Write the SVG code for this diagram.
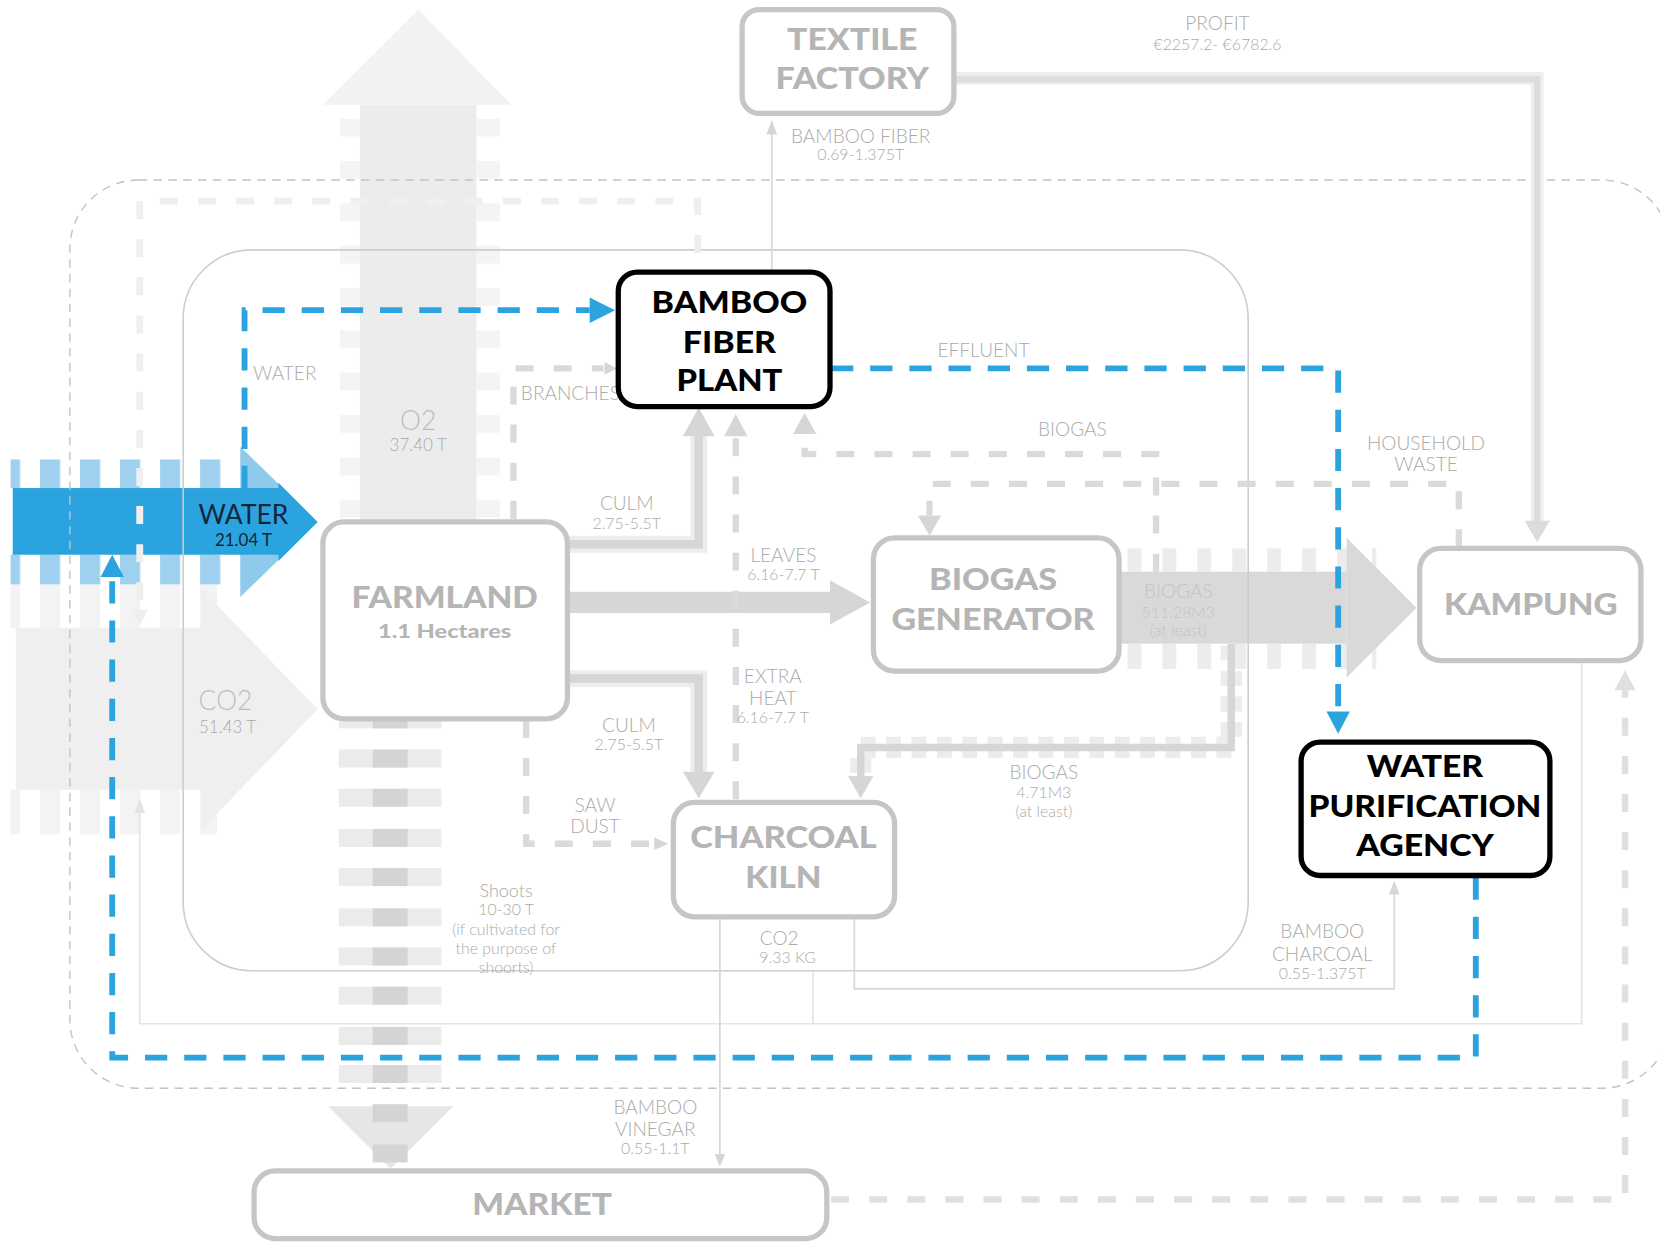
<svg xmlns="http://www.w3.org/2000/svg" width="1660" height="1242" viewBox="0 0 1660 1242">
<style>
text{font-family:Lato,"Open Sans","Liberation Sans",sans-serif}
.t{font-size:29px;font-weight:900;text-anchor:middle;fill:#b5b5b5}
.tb{font-size:29px;font-weight:900;text-anchor:middle;fill:#000}
.box{fill:#fff;stroke:#c6c6c6;stroke-width:5}
.boxb{fill:#fff;stroke:#000;stroke-width:5}
.lb{font-size:18px;font-weight:300;text-anchor:middle;fill:#aaaaaa}
.sm{font-size:15px;font-weight:300;text-anchor:middle;fill:#aaaaaa}
.big{font-size:25px;font-weight:300;text-anchor:middle;fill:#bdbdbd}
.st{text-anchor:start}
.on{fill:#c4c4c4}
.dg{fill:none;stroke:#dadada;stroke-width:6;stroke-dasharray:17 19}
.dl{fill:none;stroke:#efefef;stroke-width:6.5;stroke-dasharray:17 19}
.bl{fill:none;stroke:#2ba3df;stroke-width:5.5;stroke-dasharray:21 16}
.thin{fill:none;stroke:#d8d8d8;stroke-width:1.6}
.thl{fill:none;stroke:#e4e4e4;stroke-width:1.6}
.halo{fill:none;stroke:#ededed;stroke-width:16}
.core{fill:none;stroke:#d6d6d6;stroke-width:8}
.ag{fill:#d6d6d6}
.ab{fill:#2ba3df}
</style>
<defs>
<pattern id="pO2" patternUnits="userSpaceOnUse" x="0" y="112" width="10" height="40"><rect width="10" height="17" fill="#f4f4f4"/></pattern>
<pattern id="pW" patternUnits="userSpaceOnUse" x="0" y="0" width="37.8" height="10"><rect width="19" height="10" fill="#9fd1ef"/></pattern>
<pattern id="pC" patternUnits="userSpaceOnUse" x="0" y="0" width="37.8" height="10"><rect width="19" height="10" fill="#f3f3f3"/></pattern>
<pattern id="pB" patternUnits="userSpaceOnUse" x="1065" y="0" width="33" height="10"><rect width="13" height="10" fill="#ececec"/></pattern>
</defs>
<rect width="1660" height="1242" fill="#fff"/>
<g transform="scale(1.05867)">
<g id="flows">
<rect x="321" y="112" width="19" height="378" fill="url(#pO2)"/>
<rect x="450" y="112" width="22" height="378" fill="url(#pO2)"/>
<polygon points="305,99 395,9 483,99" fill="#f2f2f2"/>
<rect x="340" y="99" width="110" height="393" fill="#ececec"/>
<g fill="#ebebeb">
<rect x="320" y="671" width="97" height="17"/><rect x="320" y="708" width="97" height="17"/><rect x="320" y="745" width="97" height="17"/><rect x="320" y="783" width="97" height="17"/><rect x="320" y="820" width="97" height="17"/><rect x="320" y="858" width="97" height="17"/><rect x="320" y="895" width="97" height="17"/><rect x="320" y="932" width="97" height="17"/><rect x="320" y="970" width="97" height="17"/><rect x="320" y="1006" width="97" height="17"/>
</g>
<polygon points="310,1045 428,1045 369,1104" fill="#e6e6e6"/>
<g fill="#d4d4d4">
<rect x="352" y="671" width="33" height="17"/><rect x="352" y="708" width="33" height="17"/><rect x="352" y="745" width="33" height="17"/><rect x="352" y="783" width="33" height="17"/><rect x="352" y="820" width="33" height="17"/><rect x="352" y="858" width="33" height="17"/><rect x="352" y="895" width="33" height="17"/><rect x="352" y="932" width="33" height="17"/><rect x="352" y="970" width="33" height="17"/><rect x="352" y="1006" width="33" height="17"/><rect x="352" y="1043" width="33" height="17"/><rect x="352" y="1081" width="33" height="17"/>
</g>
<rect x="10" y="552" width="195" height="41" fill="url(#pC)"/>
<rect x="10" y="746" width="195" height="42" fill="url(#pC)"/>
<rect x="15" y="593" width="190" height="153" fill="#efefef"/>
<polygon points="190,556 300,670 190,784" fill="#efefef"/>
<rect x="10" y="434" width="217" height="27" fill="url(#pW)"/>
<rect x="10" y="524" width="217" height="28" fill="url(#pW)"/>
<polygon points="227,422 300,493 227,564" fill="#8fcaed"/>
<rect x="12" y="461" width="252" height="63" fill="#2ba3df"/>
<polygon points="263,456 300,493 263,530" fill="#2ba3df"/>
<rect x="1062" y="518" width="238" height="22" fill="url(#pB)"/>
<rect x="1062" y="608" width="238" height="24" fill="url(#pB)"/>
<rect x="1058" y="540" width="214" height="68" fill="#d9d9d9"/>
<polygon points="1272,508 1338,574 1272,640" fill="#d9d9d9"/>
</g>
<g id="boundaries">
<rect x="66" y="170" width="1512" height="858" rx="65" fill="none" stroke="#c2c2c2" stroke-width="1.3" stroke-dasharray="8 6"/>
<rect x="173" y="236" width="1006" height="681" rx="65" fill="none" stroke="#cdcdcd" stroke-width="1.5"/>
</g>
<g id="connectors">
<path class="dl" d="M659,239 V190 H132 V578"/>
<polygon points="124,576 132,590 140,576" fill="#eeeeee"/>
<path class="thl" d="M1494,625 V967 H132 V760"/>
<polygon points="127,768 132,754 137,768" fill="#e4e4e4"/>
<path class="thl" d="M768,917 V967"/>
<path class="halo" d="M537,514 H660 V412"/>
<path class="core" d="M537,514 H660 V412"/>
<polygon class="ag" points="645,412 660,385 675,412"/>
<rect x="537" y="559" width="247" height="20" fill="#d6d6d6"/>
<polygon class="ag" points="784,548 822,569 784,590"/>
<path class="halo" d="M537,641 H660 V729"/>
<path class="core" d="M537,641 H660 V729"/>
<polygon class="ag" points="645,729 660,754 675,729"/>
<path class="dg" d="M695,755 V412"/>
<polygon class="ag" points="684,412 695,391 706,412"/>
<path class="dg" d="M485,490 V348 H570"/>
<polygon class="ag" points="571,342 583,348 571,354"/>
<path class="dg" d="M497,680 V797 H618"/>
<polygon class="ag" points="618,791 631,797 618,803"/>
<path class="dg" d="M1092,540 V429 H760 V410"/>
<polygon class="ag" points="749,410 760,390 771,410"/>
<path class="dg" d="M1378,517 V457 H878 V487"/>
<polygon class="ag" points="867,487 878,506 889,487"/>
<path fill="none" stroke="#ececec" stroke-width="20" stroke-dasharray="14 10" d="M1163,610 V706 H813 V735"/>
<path fill="none" stroke="#d6d6d6" stroke-width="7" d="M1163,608 V706 H813 V735"/>
<polygon class="ag" points="801,733 813,754 825,733"/>
<path class="thin" d="M729,256 V118"/>
<polygon class="ag" points="724,127 729,113 734,127"/>
<path fill="none" stroke="#eeeeee" stroke-width="12" d="M902,74 H1452 V495"/>
<path fill="none" stroke="#dcdcdc" stroke-width="6" d="M902,75 H1452 V495"/>
<polygon points="1440,492 1452,512 1464,492" fill="#dcdcdc"/>
<path class="thin" d="M680,866 V1092"/>
<polygon class="ag" points="675,1090 680,1102 685,1090"/>
<path class="thin" d="M807,866 V934 H1317 V842"/>
<polygon class="ag" points="1312,845 1317,832 1322,845"/>
<path class="dg" style="stroke:#e0e0e0" d="M785,1133 H1535 V652"/>
<polygon points="1525,652 1535,633 1545,652" fill="#e0e0e0"/>
<path class="bl" d="M231,461 V293 H557"/>
<polygon class="ab" points="557,281 581,293 557,305"/>
<path class="bl" d="M785,348 H1264 V672"/>
<polygon class="ab" points="1253,672 1264,693 1275,672"/>
<path class="bl" d="M1394,829 V999 H106 V545"/>
<polygon class="ab" points="95,545 106,524 117,545"/>
</g>
<g id="labels">
<text class="big" x="395" y="406">O2</text><text class="sm" x="395" y="426" style="font-size:16px">37.40 T</text>
<text class="big" x="213" y="671">CO2</text><text class="sm" x="215" y="692" style="font-size:16px">51.43 T</text>
<text x="230" y="495" style="font-size:25px;text-anchor:middle;fill:#13263a">WATER</text>
<text x="230" y="516" style="font-size:16px;text-anchor:middle;fill:#13263a">21.04 T</text>
<text class="lb st" x="239" y="359">WATER</text>
<text class="lb st" x="492" y="378">BRANCHES</text>
<text class="lb" x="592" y="482">CULM</text><text class="sm" x="592" y="500">2.75-5.5T</text>
<text class="lb" x="740" y="531">LEAVES</text><text class="sm" x="740" y="548">6.16-7.7 T</text>
<text class="lb" x="730" y="645">EXTRA</text><text class="lb" x="730" y="666">HEAT</text><text class="sm" x="730" y="683">6.16-7.7 T</text>
<text class="lb" x="594" y="691">CULM</text><text class="sm" x="594" y="708">2.75-5.5T</text>
<text class="lb" x="562" y="767">SAW</text><text class="lb" x="562" y="787">DUST</text>
<text class="lb" x="478" y="847" style="font-size:17px">Shoots</text>
<text class="sm" x="478" y="864">10-30 T</text>
<text class="sm" x="478" y="883">(if cultivated for</text>
<text class="sm" x="478" y="901">the purpose of</text>
<text class="sm" x="478" y="919">shoorts)</text>
<text class="lb" x="736" y="893">CO2</text><text class="sm" x="744" y="910">9.33 KG</text>
<text class="lb" x="619" y="1052">BAMBOO</text><text class="lb" x="619" y="1073">VINEGAR</text><text class="sm" x="619" y="1090">0.55-1.1T</text>
<text class="lb" x="813" y="135">BAMBOO FIBER</text><text class="sm" x="813" y="151">0.69-1.375T</text>
<text class="lb" x="1150" y="28">PROFIT</text><text class="sm" x="1150" y="47">€2257.2- €6782.6</text>
<text class="lb" x="929" y="337">EFFLUENT</text>
<text class="lb" x="1013" y="412">BIOGAS</text>
<text class="lb" x="1347" y="425">HOUSEHOLD</text><text class="lb" x="1347" y="445">WASTE</text>
<text class="lb on" x="1113" y="565">BIOGAS</text><text class="sm on" x="1113" y="584">511.28M3</text><text class="sm on" x="1113" y="601">(at least)</text>
<text class="lb" x="986" y="736">BIOGAS</text><text class="sm" x="986" y="754">4.71M3</text><text class="sm" x="986" y="772">(at least)</text>
<text class="lb" x="1249" y="886">BAMBOO</text><text class="lb" x="1249" y="908">CHARCOAL</text><text class="sm" x="1249" y="925">0.55-1.375T</text>
</g>
<g id="node-textile">
<rect class="box" x="701" y="9" width="200" height="98" rx="16"/>
<text class="t" x="805" y="47" textLength="123" lengthAdjust="spacingAndGlyphs">TEXTILE</text>
<text class="t" x="805" y="84" textLength="145" lengthAdjust="spacingAndGlyphs">FACTORY</text>
</g>
<g id="node-bamboo-fiber-plant">
<rect class="boxb" x="584" y="257" width="200" height="127" rx="18"/>
<text class="tb" x="689" y="296" textLength="147" lengthAdjust="spacingAndGlyphs">BAMBOO</text>
<text class="tb" x="689" y="333" textLength="88" lengthAdjust="spacingAndGlyphs">FIBER</text>
<text class="tb" x="689" y="369" textLength="100" lengthAdjust="spacingAndGlyphs">PLANT</text>
</g>
<g id="node-farmland">
<rect class="box" x="305" y="493" width="231" height="186" rx="20"/>
<text class="t" x="420" y="574" textLength="176" lengthAdjust="spacingAndGlyphs">FARMLAND</text>
<text class="t" x="420" y="603" style="font-size:18px" textLength="126" lengthAdjust="spacingAndGlyphs">1.1 Hectares</text>
</g>
<g id="node-biogas-generator">
<rect class="box" x="825" y="508" width="232" height="126" rx="20"/>
<text class="t" x="938" y="557" textLength="121" lengthAdjust="spacingAndGlyphs">BIOGAS</text>
<text class="t" x="938" y="595" textLength="192" lengthAdjust="spacingAndGlyphs">GENERATOR</text>
</g>
<g id="node-kampung">
<rect class="box" x="1341" y="518" width="209" height="106" rx="20"/>
<text class="t" x="1446" y="581" textLength="164" lengthAdjust="spacingAndGlyphs">KAMPUNG</text>
</g>
<g id="node-charcoal-kiln">
<rect class="box" x="636" y="758" width="209" height="108" rx="20"/>
<text class="t" x="740" y="801" textLength="176" lengthAdjust="spacingAndGlyphs">CHARCOAL</text>
<text class="t" x="740" y="839" textLength="72" lengthAdjust="spacingAndGlyphs">KILN</text>
</g>
<g id="node-water-purification-agency">
<rect class="boxb" x="1229" y="701" width="235" height="126" rx="18"/>
<text class="tb" x="1346" y="734" textLength="110" lengthAdjust="spacingAndGlyphs">WATER</text>
<text class="tb" x="1346" y="772" textLength="220" lengthAdjust="spacingAndGlyphs">PURIFICATION</text>
<text class="tb" x="1346" y="809" textLength="130" lengthAdjust="spacingAndGlyphs">AGENCY</text>
</g>
<g id="node-market">
<rect class="box" x="240" y="1106" width="541" height="64" rx="20"/>
<text class="t" x="512" y="1148" textLength="132" lengthAdjust="spacingAndGlyphs">MARKET</text>
</g>
</g>
</svg>
